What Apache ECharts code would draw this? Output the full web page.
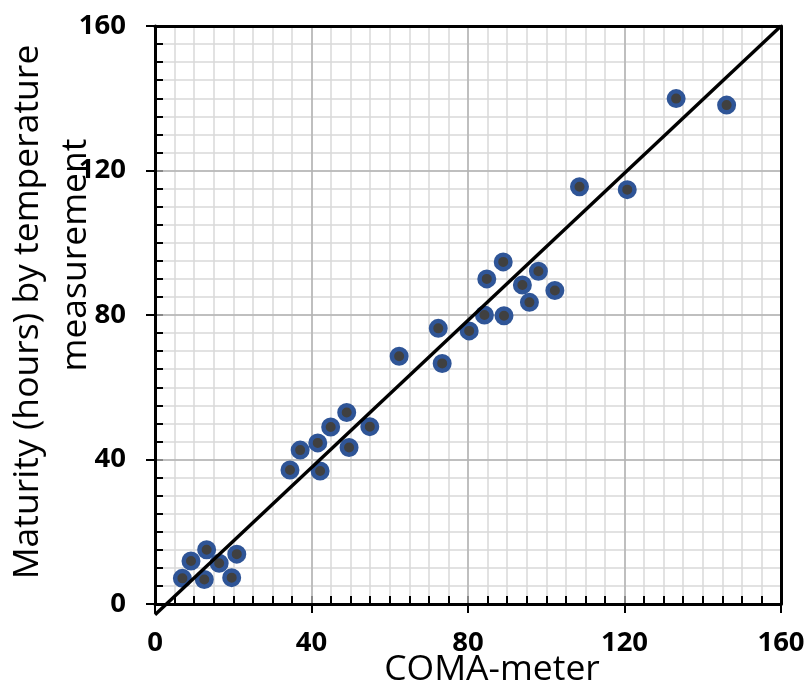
<!DOCTYPE html>
<html>
<head>
<meta charset="utf-8">
<script src="https://cdn.jsdelivr.net/npm/echarts@6/dist/echarts.min.js"></script>
<style>
html,body{margin:0;padding:0;background:#fff;}
#chart{width:810px;height:687px;}
</style>
</head>
<body>
<div id="chart"></div>
<script>
// COMA-meter readings (x) and maturity by temperature measurement (y), hours
const comaMeter = [7.0, 9.2, 13.2, 12.6, 16.4, 19.6, 20.9, 34.5, 37.1, 41.6, 42.2, 44.9, 49.0, 49.6, 54.9, 62.4, 72.4, 73.4, 80.3, 84.2, 84.8, 89.0, 89.2, 93.9, 95.7, 98.0, 102.2, 108.5, 120.7, 133.2, 146.1];
const maturity  = [7.1, 11.9, 15.0, 6.8, 11.3, 7.3, 13.8, 37.1, 42.6, 44.6, 36.8, 49.0, 53.0, 43.3, 49.1, 68.6, 76.3, 66.6, 75.6, 80.0, 90.0, 94.7, 79.8, 88.3, 83.5, 92.1, 86.8, 115.5, 114.7, 139.9, 138.1];
// fitted line end points
const lineX = [0, 160];
const lineY = [-3, 160];
// axis settings
const axisMin = 0, axisMax = 160, majorStep = 40, minorStep = 5;
const xTitle = 'COMA-meter';
const yTitle1 = 'Maturity (hours) by temperature';
const yTitle2 = 'measurement';

const chart = echarts.init(document.getElementById('chart'));
const labelStyle = {fontFamily: '"Open Sans", sans-serif', fontWeight: 'bold', fontSize: 27.5, color: '#000'};

function mainAxis(pos, margin) {
  return {
    type: 'value', position: pos, min: axisMin, max: axisMax, interval: majorStep, z: 1,
    axisLine: {show: true, onZero: false, lineStyle: {color: '#000', width: 3}},
    axisTick: {show: true, inside: false, length: 9, lineStyle: {color: '#000', width: 2}},
    axisLabel: Object.assign({margin: margin}, labelStyle),
    splitLine: {show: true, lineStyle: {color: '#b3b3b3', width: 1.5}}
  };
}
function minorAxis(pos) {
  return {
    type: 'value', position: pos, min: axisMin, max: axisMax, interval: minorStep, z: 0,
    axisLine: {show: false, onZero: false},
    axisTick: {show: true, inside: true, length: 8, lineStyle: {color: '#000', width: 2}},
    axisLabel: {show: false},
    splitLine: {show: true, lineStyle: {color: '#d9d9d9', width: 1.5}}
  };
}
function borderAxis(pos) {
  return {
    type: 'value', position: pos, min: axisMin, max: axisMax, interval: majorStep, z: 1,
    axisLine: {show: true, onZero: false, lineStyle: {color: '#000', width: 3}},
    axisTick: {show: false}, axisLabel: {show: false}, splitLine: {show: false}
  };
}

const points = comaMeter.map((x, i) => [x, maturity[i]]);
const linePts = lineX.map((x, i) => [x, lineY[i]]);

chart.setOption({
  animation: false,
  backgroundColor: '#fff',
  grid: {left: 155, top: 26, width: 626, height: 578, containLabel: false},
  xAxis: [mainAxis('bottom', 25), minorAxis('bottom'), borderAxis('top')],
  yAxis: [mainAxis('left', 29), minorAxis('left'), borderAxis('right')],
  series: [
    {
      type: 'scatter', xAxisIndex: 0, yAxisIndex: 0, data: points,
      symbol: 'circle', symbolSize: 14.5, z: 3,
      itemStyle: {color: '#404040', borderColor: '#2F5597', borderWidth: 4.5, opacity: 1}
    },
    {
      type: 'line', xAxisIndex: 0, yAxisIndex: 0, data: linePts, clip: false,
      showSymbol: false, symbol: 'none', z: 4,
      lineStyle: {color: '#000', width: 3.4}
    }
  ],
  graphic: [
    {type: 'text', x: 28, y: 312, rotation: Math.PI / 2,
     style: {text: yTitle1, font: '35.5px "Open Sans", sans-serif', fill: '#000', textAlign: 'center', textVerticalAlign: 'middle'}},
    {type: 'text', x: 76, y: 255, rotation: Math.PI / 2,
     style: {text: yTitle2, font: '35.5px "Open Sans", sans-serif', fill: '#000', textAlign: 'center', textVerticalAlign: 'middle'}},
    {type: 'text', x: 492, y: 670,
     style: {text: xTitle, font: '35.5px "Open Sans", sans-serif', fill: '#000', textAlign: 'center', textVerticalAlign: 'middle'}}
  ]
});
</script>
</body>
</html>
